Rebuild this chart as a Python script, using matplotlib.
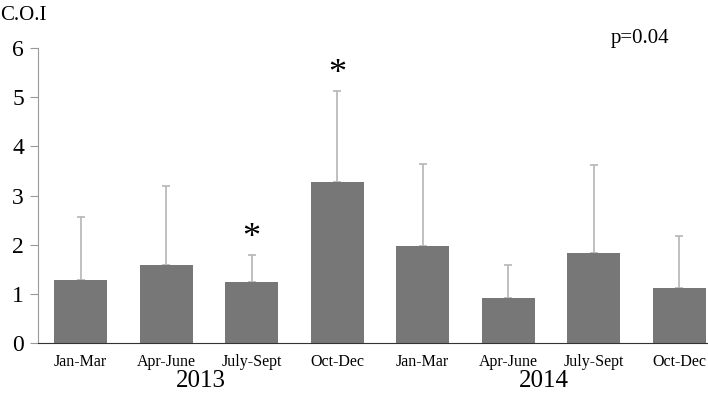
import numpy as np
import matplotlib
matplotlib.use('Agg')
import matplotlib.pyplot as plt

plt.rcParams['font.family'] = ['Liberation Serif', 'DejaVu Serif']

quarters = ['Jan-Mar', 'Apr-June', 'July-Sept', 'Oct-Dec',
            'Jan-Mar', 'Apr-June', 'July-Sept', 'Oct-Dec']
years = ['2013', '2014']
coi = [1.28, 1.59, 1.25, 3.27, 1.97, 0.92, 1.83, 1.12]
err = [1.28, 1.61, 0.55, 1.86, 1.68, 0.66, 1.80, 1.05]
starred = [2, 3]

x = np.arange(len(coi))

fig = plt.figure(figsize=(7.08, 4.01), dpi=100)
ax = fig.add_axes([38 / 708, 58 / 401, 684 / 708, 295 / 401])

ax.bar(x, coi, 0.62, color='#777777', zorder=2)
ax.errorbar(x, coi, yerr=[np.zeros(len(err)), err], fmt='none',
            ecolor='#b5b5b5', elinewidth=1.2, capsize=3, capthick=1.2, zorder=1)

for i in starred:
    ax.text(x[i], coi[i] + err[i] + 0.33, '*', ha='center', va='center',
            fontsize=26)

ax.set_xlim(-0.5, 7.5)
ax.set_ylim(0, 6)
ax.set_yticks(range(7))
ax.set_xticks(x)
ax.set_xticklabels(quarters, fontsize=11.5)
ax.tick_params(axis='x', length=0, pad=8)
ax.tick_params(axis='y', labelsize=17, length=6, color='#999999', direction='out', pad=4)

for s in ['top', 'right']:
    ax.spines[s].set_visible(False)
ax.spines['left'].set_color('#999999')
ax.spines['bottom'].set_color('#333333')

ax.text(1.4, -0.78, years[0], ha='center', va='center', fontsize=18)
ax.text(5.42, -0.78, years[1], ha='center', va='center', fontsize=18)
fig.text(0 / 708, 1 - 16 / 401, 'C.O.I', ha='left', va='center', fontsize=15)
fig.text(640 / 708, 1 - 38 / 401, 'p=0.04', ha='center', va='center', fontsize=15)

plt.savefig('out.png', dpi=100)
